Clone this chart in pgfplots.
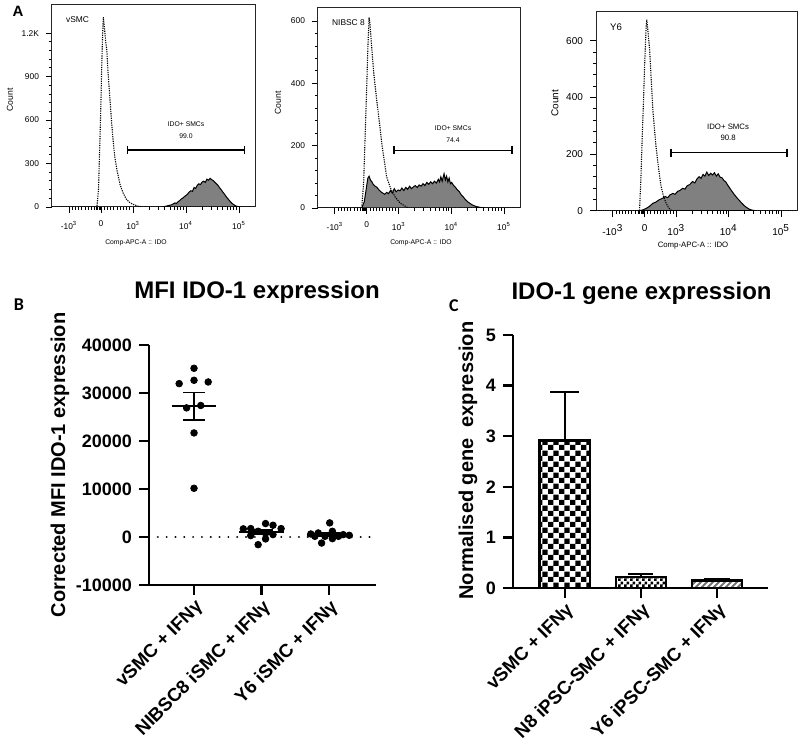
\documentclass[border=0pt]{standalone}
\usepackage{fontspec}
\setmainfont{Liberation Sans}
\newfontfamily\calibri{Carlito}
\usepackage{pgfplots}
\pgfplotsset{compat=1.18}
\usetikzlibrary{patterns}

% bar fills
\pgfdeclarepatternformonly{bigchecker}{\pgfpointorigin}{\pgfqpoint{5.6pt}{5.6pt}}{\pgfqpoint{5.6pt}{5.6pt}}{%
  \pgfpathrectangle{\pgfpointorigin}{\pgfqpoint{2.8pt}{2.8pt}}%
  \pgfpathrectangle{\pgfqpoint{2.8pt}{2.8pt}}{\pgfqpoint{2.8pt}{2.8pt}}%
  \pgfusepath{fill}}
\pgfdeclarepatternformonly{smallchecker}{\pgfpointorigin}{\pgfqpoint{3pt}{3pt}}{\pgfqpoint{3pt}{3pt}}{%
  \pgfpathrectangle{\pgfpointorigin}{\pgfqpoint{1.5pt}{1.5pt}}%
  \pgfpathrectangle{\pgfqpoint{1.5pt}{1.5pt}}{\pgfqpoint{1.5pt}{1.5pt}}%
  \pgfusepath{fill}}
\pgfdeclarepatternformonly{hatch}{\pgfqpoint{-1pt}{-1pt}}{\pgfqpoint{4pt}{4pt}}{\pgfqpoint{3pt}{3pt}}{%
  \pgfsetlinewidth{0.9pt}%
  \pgfpathmoveto{\pgfqpoint{0pt}{0pt}}\pgfpathlineto{\pgfqpoint{3.1pt}{3.1pt}}%
  \pgfusepath{stroke}}

\tikzset{gatetext/.style={font=\fontsize{3.4}{4}\selectfont, align=center}}

\pgfplotsset{
  flowhist/.style={
    anchor=north west, scale only axis,
    xmin=-1.53, xmax=4.8, ymin=0,
    axis line style={black!85, line width=0.5pt},
    tick align=outside, xtick pos=left, ytick pos=left,
    major tick length=3pt, minor tick length=1.5pt,
    every tick/.style={black, line width=0.45pt},
    xtick={-1,0,1,2.65,4.3},
    xticklabels={-10\textsuperscript{3},0,10\textsuperscript{3},10\textsuperscript{4},10\textsuperscript{5}},
    minor xtick={-0.9,-0.8,-0.7,-0.6,-0.5,-0.4,-0.3,-0.2,-0.15,-0.1,-0.06,-0.03,
      0.1,0.2,0.3,0.4,0.5,0.6,0.7,0.8,0.9,
      1.5,1.79,1.99,2.15,2.28,2.39,2.49,2.57,
      3.15,3.44,3.64,3.8,3.93,4.04,4.14,4.22},
    minor y tick num=4,
    tick label style={font=\fontsize{4.2}{5}\selectfont},
    xticklabel style={yshift=-0.5pt},
  },
  ctrl/.style={black, line width=0.55pt, dash pattern=on 0.6pt off 0.55pt},
  stained/.style={draw=black, line width=0.5pt, fill=black!50},
  gate/.style={black, line width=0.75pt, mark=|, mark size=2pt,
    mark options={solid, line width=0.75pt}},
}

\begin{document}
\begin{tikzpicture}
\useasboundingbox (0,0) rectangle (400pt,-374.5pt);

% ---------------- A: flow cytometry histograms ----------------
\node[font=\bfseries\fontsize{7.5}{8}\selectfont] at (9pt,-5.5pt) {A};

% vSMC
\begin{axis}[flowhist, at={(26pt,-2.5pt)}, width=101.5pt, height=101pt,
  ymax=1394, ytick={0,300,600,900,1200}, yticklabels={0,300,600,900,1.2K}]
  \addplot[stained] coordinates {
    (1.9,0) (2.0,4) (2.1,10) (2.2,15) (2.3,28) (2.35,24) (2.4,36) (2.45,44) (2.5,55)
    (2.55,62) (2.6,72) (2.65,80) (2.7,90) (2.75,104) (2.8,112) (2.85,108) (2.9,135)
    (2.95,128) (3.0,150) (3.05,160) (3.1,155) (3.15,172) (3.2,178) (3.25,170)
    (3.3,192) (3.35,185) (3.4,198) (3.45,188) (3.5,182) (3.55,170) (3.6,160)
    (3.65,148) (3.7,132) (3.75,118) (3.8,102) (3.85,88) (3.9,72) (3.95,58) (4.0,45)
    (4.05,32) (4.1,22) (4.15,14) (4.2,7) (4.3,2) (4.4,0)} \closedcycle;
  \addplot[ctrl] coordinates {
    (-1.53,0) (-0.13,0) (-0.08,120) (-0.03,504) (0.0,760) (0.02,966) (0.05,1200)
    (0.07,1310) (0.1,1250) (0.14,1150) (0.18,1080) (0.22,920) (0.28,735) (0.33,580)
    (0.38,450) (0.43,342) (0.5,250) (0.59,157) (0.68,100) (0.79,53) (0.9,30)
    (1.0,18) (1.15,6) (1.32,0) (4.8,0)};
  \addplot[gate] coordinates {(0.82,395) (4.47,395)};
  \node[gatetext] at (axis cs:2.65,573) {IDO+ SMCs};
  \node[gatetext] at (axis cs:2.65,492) {99.0};
  \node[anchor=north west, font=\fontsize{4.2}{5}\selectfont] at (rel axis cs:0.035,0.975) {vSMC};
\end{axis}
\node[rotate=90, font=\fontsize{4.3}{5}\selectfont] at (5pt,-50pt) {Count};
\node[font=\fontsize{3.4}{4}\selectfont] at (68pt,-121.5pt) {Comp-APC-A :: IDO};

% NIBSC 8
\begin{axis}[flowhist, at={(159pt,-4pt)}, width=101pt, height=100pt,
  ymax=642, ytick={0,200,400,600}, yticklabels={0,200,400,600}]
  \addplot[stained] coordinates {
    (-0.16,0) (-0.08,20) (-0.02,60) (0.03,95) (0.07,102) (0.12,88) (0.16,84)
    (0.2,76) (0.26,70) (0.32,66) (0.38,58) (0.44,52) (0.5,48) (0.56,44) (0.62,50)
    (0.68,46) (0.74,56) (0.8,48) (0.86,62) (0.92,52) (0.98,58) (1.04,55) (1.1,64)
    (1.16,56) (1.22,66) (1.28,60) (1.34,70) (1.4,62) (1.46,68) (1.52,72) (1.58,66)
    (1.64,74) (1.7,70) (1.76,78) (1.82,72) (1.88,82) (1.94,76) (2.0,84) (2.06,78)
    (2.12,86) (2.18,80) (2.24,92) (2.28,84) (2.32,100) (2.36,86) (2.42,110)
    (2.46,90) (2.5,102) (2.54,84) (2.58,96) (2.62,78) (2.66,82) (2.72,72) (2.78,66)
    (2.84,58) (2.9,52) (2.96,42) (3.02,36) (3.08,28) (3.16,20) (3.24,14) (3.32,9)
    (3.42,5) (3.55,2) (3.7,0)} \closedcycle;
  \addplot[ctrl] coordinates {
    (-1.53,0) (-0.16,0) (-0.1,80) (-0.05,239) (0.0,400) (0.03,506) (0.07,612)
    (0.1,590) (0.16,506) (0.22,430) (0.31,346) (0.4,270) (0.47,206) (0.55,150)
    (0.62,100) (0.75,62) (0.89,35) (1.05,15) (1.3,0) (4.8,0)};
  \addplot[gate] coordinates {(0.85,185) (4.55,185)};
  \node[gatetext] at (axis cs:2.7,255) {IDO+ SMCs};
  \node[gatetext] at (axis cs:2.7,217) {74.4};
  \node[anchor=north west, font=\fontsize{4.2}{5}\selectfont] at (rel axis cs:0.035,0.975) {NIBSC 8};
\end{axis}
\node[rotate=90, font=\fontsize{4.3}{5}\selectfont] at (139pt,-51.5pt) {Count};
\node[font=\fontsize{3.4}{4}\selectfont] at (210.5pt,-121.5pt) {Comp-APC-A :: IDO};

% Y6
\begin{axis}[flowhist, at={(298pt,-5.85pt)}, width=100.5pt, height=99.5pt,
  ymax=702, ytick={0,200,400,600}, yticklabels={0,200,400,600},
  tick label style={font=\fontsize{5}{6}\selectfont}]
  \addplot[stained] coordinates {
    (-0.16,0) (-0.05,3) (0.05,8) (0.15,15) (0.26,26) (0.35,30) (0.45,38) (0.57,44)
    (0.65,50) (0.73,46) (0.8,56) (0.89,61) (0.96,58) (1.04,68) (1.12,72) (1.2,79)
    (1.27,76) (1.34,88) (1.42,92) (1.51,103) (1.58,98) (1.65,112) (1.72,120)
    (1.78,114) (1.84,128) (1.9,122) (1.96,136) (2.02,124) (2.08,132) (2.14,126)
    (2.2,134) (2.26,122) (2.32,130) (2.38,118) (2.44,116) (2.5,106) (2.55,103)
    (2.62,90) (2.68,80) (2.76,67) (2.84,55) (2.92,44) (2.97,38) (3.05,28) (3.12,20)
    (3.18,14) (3.26,8) (3.32,4) (3.39,2) (3.5,0)} \closedcycle;
  \addplot[ctrl] coordinates {
    (-1.53,0) (-0.16,0) (-0.12,100) (-0.07,273) (-0.03,400) (0.0,509) (0.05,651)
    (0.07,674) (0.1,640) (0.16,568) (0.21,460) (0.26,356) (0.31,290) (0.36,226)
    (0.44,150) (0.52,85) (0.6,50) (0.68,26) (0.76,10) (0.83,2) (0.9,0) (4.8,0)};
  \addplot[gate] coordinates {(0.83,205) (4.48,205)};
  \node[gatetext, font=\fontsize{3.9}{4.5}\selectfont] at (axis cs:2.63,297) {IDO+ SMCs};
  \node[gatetext, font=\fontsize{3.9}{4.5}\selectfont] at (axis cs:2.63,256) {90.8};
  \node[anchor=north west, font=\fontsize{4.8}{5.5}\selectfont] at (rel axis cs:0.035,0.975) {Y6};
\end{axis}
\node[rotate=90, font=\fontsize{5}{6}\selectfont] at (277.5pt,-51.5pt) {Count};
\node[font=\fontsize{3.9}{4.5}\selectfont] at (346.5pt,-123pt) {Comp-APC-A :: IDO};

% ---------------- B: MFI scatter ----------------
\node[font=\calibri\bfseries\fontsize{9}{10}\selectfont] at (9.5pt,-152.5pt) {B};
\node[font=\bfseries\fontsize{12}{14}\selectfont] at (128.5pt,-146pt) {MFI IDO-1 expression};
\node[rotate=90, font=\bfseries\fontsize{10}{12}\selectfont] at (30pt,-232.5pt) {Corrected MFI IDO-1 expression};
\begin{axis}[at={(74.5pt,-172.5pt)}, anchor=north west, scale only axis,
  width=113.5pt, height=120pt,
  xmin=-0.667, xmax=2.696, ymin=-10000, ymax=40000,
  scaled y ticks=false,
  axis x line*=bottom, axis y line*=left,
  axis line style={line width=1.2pt, -},
  tick align=outside, major tick length=5pt,
  every tick/.style={black, line width=1.2pt},
  xtick={0,1,2},
  xticklabels={vSMC + IFNγ, NIBSC8 iSMC + IFNγ, Y6 iSMC + IFNγ},
  xticklabel style={rotate=45, anchor=north east, inner sep=1pt,
    font=\bfseries\fontsize{9.3}{10}\selectfont},
  ytick={-10000,0,10000,20000,30000,40000},
  yticklabels={-10000,0,10000,20000,30000,40000},
  yticklabel style={font=\bfseries\fontsize{9}{10}\selectfont},
  clip=false]
  % zero reference
  \addplot[black, line width=1.1pt, dash pattern=on 0.01pt off 4.4pt, line cap=round]
    coordinates {(-0.667,0) (2.696,0)};
  % mean and SEM
  \addplot[black, line width=1pt] coordinates {(-0.33,27222) (0.33,27222)};
  \addplot[black, line width=0.9pt] coordinates {(0,24348) (0,30096)};
  \addplot[black, line width=0.9pt] coordinates {(-0.165,24348) (0.165,24348)};
  \addplot[black, line width=0.9pt] coordinates {(-0.165,30096) (0.165,30096)};
  \addplot[black, line width=1pt] coordinates {(0.67,1023) (1.33,1023)};
  \addplot[black, line width=0.9pt] coordinates {(1,636) (1,1410)};
  \addplot[black, line width=0.9pt] coordinates {(0.835,636) (1.165,636)};
  \addplot[black, line width=0.9pt] coordinates {(0.835,1410) (1.165,1410)};
  \addplot[black, line width=1pt] coordinates {(1.67,477) (2.33,477)};
  \addplot[black, line width=0.9pt] coordinates {(2,164) (2,790)};
  \addplot[black, line width=0.9pt] coordinates {(1.835,164) (2.165,164)};
  \addplot[black, line width=0.9pt] coordinates {(1.835,790) (2.165,790)};
  % individual samples
  \addplot[only marks, mark=*, mark size=1.65pt, black] coordinates {
    (0,35150) (-0.22,31950) (0,32650) (0.21,32300) (-0.11,26900) (0.10,27400)
    (0,21680) (0,10150)};
  \addplot[only marks, mark=*, mark size=1.65pt, black] coordinates {
    (0.73,1700) (0.84,1750) (0.95,1200) (1.06,2800) (1.17,2450) (1.29,1750)
    (0.84,300) (1.06,800) (1.17,500) (1.06,-400) (0.95,-1600)};
  \addplot[only marks, mark=*, mark size=1.65pt, black] coordinates {
    (2.01,2940) (1.73,630) (1.84,840) (1.94,140) (1.89,-1260) (2.05,1190)
    (2.14,140) (2.21,490) (2.30,350) (2.05,-350) (1.79,140)};
\end{axis}

% ---------------- C: qPCR bars ----------------
\node[font=\calibri\bfseries\fontsize{9}{10}\selectfont] at (227pt,-153pt) {C};
\node[font=\bfseries\fontsize{12}{14}\selectfont] at (320.8pt,-146.5pt) {IDO-1 gene expression};
\node[rotate=90, font=\bfseries\fontsize{10}{12}\selectfont] at (234pt,-230.3pt) {Normalised gene~ expression};
\begin{axis}[at={(256.5pt,-167.5pt)}, anchor=north west, scale only axis,
  width=127.5pt, height=126.6pt,
  xmin=-0.68, xmax=2.67, ymin=0, ymax=5,
  axis x line*=bottom, axis y line*=left,
  axis line style={line width=1.2pt, -},
  tick align=outside, major tick length=5pt,
  every tick/.style={black, line width=1.2pt},
  xtick={0,1,2},
  xticklabels={vSMC + IFNγ, N8 iPSC-SMC + IFNγ, Y6 iPSC-SMC + IFNγ},
  xticklabel style={rotate=45, anchor=north east, inner sep=1pt,
    font=\bfseries\fontsize{9.3}{10}\selectfont},
  ytick={0,1,2,3,4,5}, yticklabels={0,1,2,3,4,5},
  yticklabel style={font=\bfseries\fontsize{9}{10}\selectfont},
  clip=false]
  \addplot[ybar, bar width=0.66, bar shift=0pt, draw=black, line width=1.2pt,
    fill=white, postaction={pattern=bigchecker}] coordinates {(0,2.92)};
  \addplot[ybar, bar width=0.66, bar shift=0pt, draw=black, line width=1.2pt,
    fill=white, postaction={pattern=smallchecker}] coordinates {(1,0.217)};
  \addplot[ybar, bar width=0.66, bar shift=0pt, draw=black, line width=1.2pt,
    fill=white, postaction={pattern=hatch, pattern color=black!55}] coordinates {(2,0.15)};
  % upper SEM
  \addplot[black, line width=0.9pt] coordinates {(0,2.92) (0,3.88)};
  \addplot[black, line width=0.9pt] coordinates {(-0.19,3.88) (0.19,3.88)};
  \addplot[black, line width=0.9pt] coordinates {(1,0.217) (1,0.283)};
  \addplot[black, line width=0.9pt] coordinates {(0.835,0.283) (1.165,0.283)};
  \addplot[black, line width=0.9pt] coordinates {(2,0.15) (2,0.185)};
  \addplot[black, line width=0.9pt] coordinates {(1.835,0.185) (2.165,0.185)};
\end{axis}
\end{tikzpicture}
\end{document}
